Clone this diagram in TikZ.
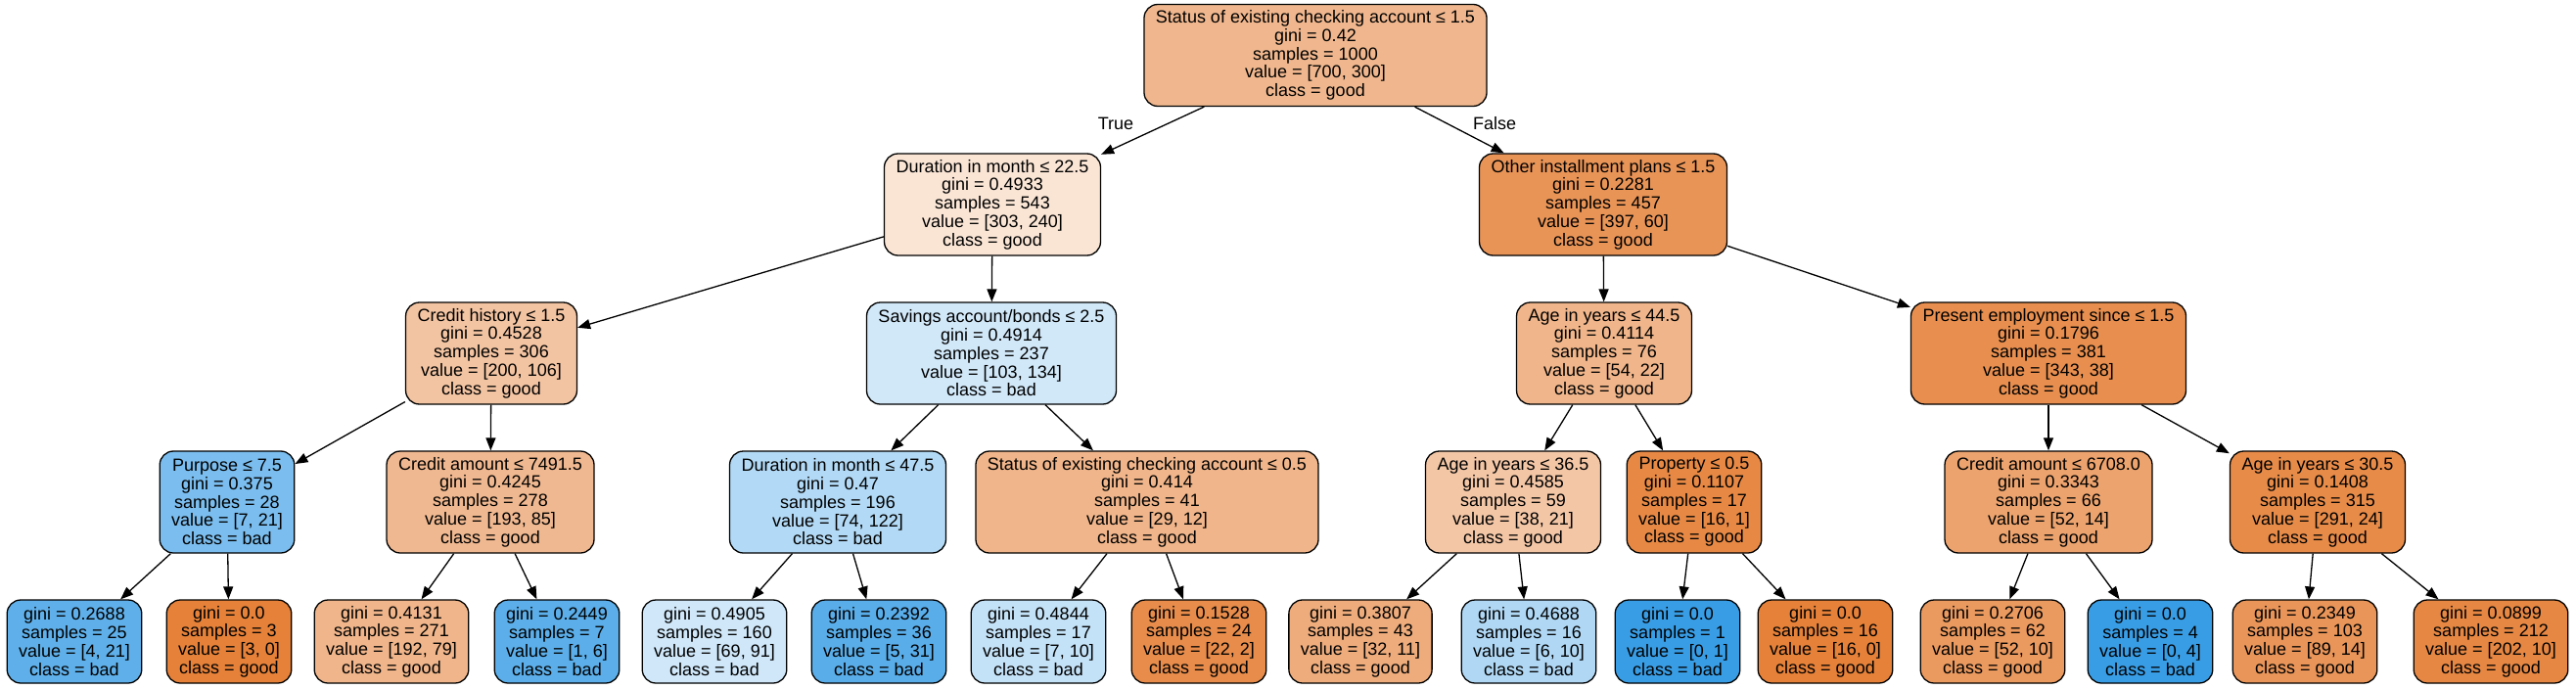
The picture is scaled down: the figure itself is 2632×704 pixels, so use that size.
\documentclass[tikz,border=0pt]{standalone}
\usepackage{fontspec}
\setmainfont{Liberation Sans}
\usetikzlibrary{arrows.meta}
\definecolor{bon}{RGB}{229,129,57}
\definecolor{mauvais}{RGB}{57,157,229}

\begin{document}
\begin{tikzpicture}[x=1pt, y=-1pt, font=\fontsize{18}{18.75}\selectfont]
		\tikzstyle{noeud}=[draw,line width=1.3pt,rounded corners=14pt,
                  align=center,inner xsep=12pt,inner ysep=0pt,minimum height=104pt]
		\tikzstyle{feuille}=[noeud,minimum height=85pt]
		\tikzstyle{fleche}=[-{Triangle[length=13pt,width=10pt]},line width=1.3pt]
                \useasboundingbox (0,0) rectangle (2632,704);
                % niveau 0
                \node[noeud,fill=bon!57] (racine) at (1344,56.5)
                {Status of existing checking account ≤ 1.5\\gini = 0.42\\samples = 1000\\value = [700, 300]\\class = good};
                % niveau 1
                \node[noeud,fill=bon!21] (duree) at (1014,209)
                {Duration in month ≤ 22.5\\gini = 0.4933\\samples = 543\\value = [303, 240]\\class = good};
                \node[noeud,fill=bon!85] (autres) at (1638,209)
                {Other installment plans ≤ 1.5\\gini = 0.2281\\samples = 457\\value = [397, 60]\\class = good};
                % niveau 2
                \node[noeud,fill=bon!47] (histo) at (502,361)
                {Credit history ≤ 1.5\\gini = 0.4528\\samples = 306\\value = [200, 106]\\class = good};
                \node[noeud,fill=mauvais!23] (epargne) at (1013,361)
                {Savings account/bonds ≤ 2.5\\gini = 0.4914\\samples = 237\\value = [103, 134]\\class = bad};
                \node[noeud,fill=bon!59] (age) at (1639,361)
                {Age in years ≤ 44.5\\gini = 0.4114\\samples = 76\\value = [54, 22]\\class = good};
                \node[noeud,fill=bon!89] (emploi) at (2093,361)
                {Present employment since ≤ 1.5\\gini = 0.1796\\samples = 381\\value = [343, 38]\\class = good};
                % niveau 3
                \node[noeud,fill=mauvais!67] (objet) at (232,513)
                {Purpose ≤ 7.5\\gini = 0.375\\samples = 28\\value = [7, 21]\\class = bad};
                \node[noeud,fill=bon!56] (montant) at (501,513)
                {Credit amount ≤ 7491.5\\gini = 0.4245\\samples = 278\\value = [193, 85]\\class = good};
                \node[noeud,fill=mauvais!39] (dureeb) at (856,513)
                {Duration in month ≤ 47.5\\gini = 0.47\\samples = 196\\value = [74, 122]\\class = bad};
                \node[noeud,fill=bon!59] (statut) at (1172,513)
                {Status of existing checking account ≤ 0.5\\gini = 0.414\\samples = 41\\value = [29, 12]\\class = good};
                \node[noeud,fill=bon!45] (ageb) at (1546,513)
                {Age in years ≤ 36.5\\gini = 0.4585\\samples = 59\\value = [38, 21]\\class = good};
                \node[noeud,fill=bon!94] (propriete) at (1731,513)
                {Property ≤ 0.5\\gini = 0.1107\\samples = 17\\value = [16, 1]\\class = good};
                \node[noeud,fill=bon!73] (montantb) at (2093,513)
                {Credit amount ≤ 6708.0\\gini = 0.3343\\samples = 66\\value = [52, 14]\\class = good};
                \node[noeud,fill=bon!92] (agec) at (2368,513)
                {Age in years ≤ 30.5\\gini = 0.1408\\samples = 315\\value = [291, 24]\\class = good};
                % feuilles
                \node[feuille,fill=mauvais!81] (f1) at (76,655.5)
                {gini = 0.2688\\samples = 25\\value = [4, 21]\\class = bad};
                \node[feuille,fill=bon] (f2) at (234,655.5)
                {gini = 0.0\\samples = 3\\value = [3, 0]\\class = good};
                \node[feuille,fill=bon!59] (f3) at (400,655.5)
                {gini = 0.4131\\samples = 271\\value = [192, 79]\\class = good};
                \node[feuille,fill=mauvais!83] (f4) at (569,655.5)
                {gini = 0.2449\\samples = 7\\value = [1, 6]\\class = bad};
                \node[feuille,fill=mauvais!24] (f5) at (730,655.5)
                {gini = 0.4905\\samples = 160\\value = [69, 91]\\class = bad};
                \node[feuille,fill=mauvais!84] (f6) at (898,655.5)
                {gini = 0.2392\\samples = 36\\value = [5, 31]\\class = bad};
                \node[feuille,fill=mauvais!30] (f7) at (1061,655.5)
                {gini = 0.4844\\samples = 17\\value = [7, 10]\\class = bad};
                \node[feuille,fill=bon!91] (f8) at (1225,655.5)
                {gini = 0.1528\\samples = 24\\value = [22, 2]\\class = good};
                \node[feuille,fill=bon!66] (f9) at (1390,655.5)
                {gini = 0.3807\\samples = 43\\value = [32, 11]\\class = good};
                \node[feuille,fill=mauvais!40] (f10) at (1562,655.5)
                {gini = 0.4688\\samples = 16\\value = [6, 10]\\class = bad};
                \node[feuille,fill=mauvais] (f11) at (1714,655.5)
                {gini = 0.0\\samples = 1\\value = [0, 1]\\class = bad};
                \node[feuille,fill=bon] (f12) at (1865,655.5)
                {gini = 0.0\\samples = 16\\value = [16, 0]\\class = good};
                \node[feuille,fill=bon!81] (f13) at (2036,655.5)
                {gini = 0.2706\\samples = 62\\value = [52, 10]\\class = good};
                \node[feuille,fill=mauvais] (f14) at (2197,655.5)
                {gini = 0.0\\samples = 4\\value = [0, 4]\\class = bad};
                \node[feuille,fill=bon!84] (f15) at (2355,655.5)
                {gini = 0.2349\\samples = 103\\value = [89, 14]\\class = good};
                \node[feuille,fill=bon!95] (f16) at (2545,655.5)
                {gini = 0.0899\\samples = 212\\value = [202, 10]\\class = good};
                % etiquettes
                \node (vrai) at (1140,126) {True};
                \node (faux) at (1527,126) {False};
                % aretes
                \draw[fleche] (racine) -- (duree); \draw[fleche] (racine) -- (autres);
                \draw[fleche] (duree) -- (histo); \draw[fleche] (duree) -- (epargne);
                \draw[fleche] (autres) -- (age); \draw[fleche] (autres) -- (emploi);
                \draw[fleche] (histo) -- (objet); \draw[fleche] (histo) -- (montant);
                \draw[fleche] (epargne) -- (dureeb); \draw[fleche] (epargne) -- (statut);
                \draw[fleche] (age) -- (ageb); \draw[fleche] (age) -- (propriete);
                \draw[fleche] (emploi) -- (montantb); \draw[fleche] (emploi) -- (agec);
                \draw[fleche] (objet) -- (f1); \draw[fleche] (objet) -- (f2);
                \draw[fleche] (montant) -- (f3); \draw[fleche] (montant) -- (f4);
                \draw[fleche] (dureeb) -- (f5); \draw[fleche] (dureeb) -- (f6);
                \draw[fleche] (statut) -- (f7); \draw[fleche] (statut) -- (f8);
                \draw[fleche] (ageb) -- (f9); \draw[fleche] (ageb) -- (f10);
                \draw[fleche] (propriete) -- (f11); \draw[fleche] (propriete) -- (f12);
                \draw[fleche] (montantb) -- (f13); \draw[fleche] (montantb) -- (f14);
                \draw[fleche] (agec) -- (f15); \draw[fleche] (agec) -- (f16);
	\end{tikzpicture}
\end{document}
